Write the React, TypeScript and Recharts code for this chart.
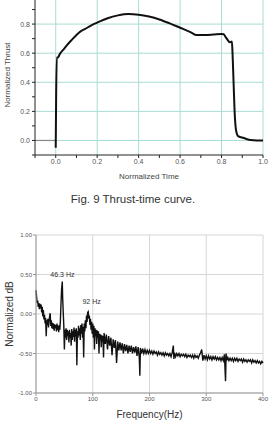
import React from 'react';
import {
  LineChart,
  Line,
  XAxis,
  YAxis,
  CartesianGrid,
  ReferenceDot
} from 'recharts';

// Fig. 9 - normalized thrust vs normalized time
const preTime = [-0.1, 0];
const preThrust = [0, 0];
const timeNorm = [
  0.0, 0.002, 0.005, 0.01, 0.02, 0.04, 0.06, 0.08, 0.1, 0.12, 0.14, 0.17,
  0.2, 0.25, 0.3, 0.35, 0.4, 0.45, 0.5, 0.55, 0.6, 0.65, 0.68, 0.72, 0.76, 0.8, 0.81,
  0.82, 0.83, 0.84, 0.85, 0.853, 0.858, 0.863, 0.87, 0.88, 0.9, 0.92, 0.94, 0.97, 1.0,
];
const thrustNorm = [
  -0.05, 0.3, 0.57, 0.57, 0.595, 0.63, 0.665, 0.695, 0.725, 0.75, 0.765, 0.79,
  0.81, 0.84, 0.86, 0.87, 0.865, 0.852, 0.832, 0.805, 0.775, 0.745, 0.725, 0.725, 0.728, 0.732, 0.73,
  0.71, 0.69, 0.675, 0.68, 0.6, 0.4, 0.2, 0.07, 0.03, 0.02, 0.01, 0.003, 0, 0,
];
const timeTicks = [-0.1, 0, 0.1, 0.2, 0.3, 0.4, 0.5, 0.6, 0.7, 0.8, 0.9, 1.0];
const thrustTicks = [-0.1, 0, 0.1, 0.2, 0.3, 0.4, 0.5, 0.6, 0.7, 0.8, 0.9, 1.0];
const timeGrid = [0, 0.2, 0.4, 0.6, 0.8, 1.0];
const thrustGrid = [0, 0.2, 0.4, 0.6, 0.8];

// spectrum - normalized dB vs frequency
const freqHz = [
  0, 1, 2, 3, 4, 5, 6, 7, 8, 9,
  10, 11, 12, 13, 14, 15, 16, 17, 18, 19,
  20, 21, 22, 23, 24, 25, 26, 27, 28, 29,
  30, 31, 32, 33, 34, 35, 36, 37, 38, 39,
  40, 41, 42, 43, 44, 45, 46.3, 47, 48, 49,
  50, 51, 52, 53, 54, 55, 56, 57, 58, 59,
  60, 61, 62, 63, 64, 65, 66, 67, 68, 69,
  70, 71, 72, 73, 74, 75, 76, 77, 78, 79,
  80, 81, 82, 83, 84, 85, 86, 87, 88, 89,
  90, 91, 92, 93, 94, 95, 96, 97, 98, 99,
  100, 101, 102, 103, 104, 105, 106, 107, 108, 109,
  110, 111, 112, 113, 114, 115, 116, 117, 118, 119,
  120, 122, 124, 126, 128, 130, 132, 134, 136, 138,
  140, 142, 144, 146, 148, 150, 152, 154, 156, 158,
  160, 162, 164, 166, 168, 170, 172, 174, 176, 178,
  180, 182, 183, 184, 186, 188, 190, 192, 194, 196, 198,
  200, 202, 204, 206, 208, 210, 212, 214, 216, 218,
  220, 222, 224, 226, 228, 230, 232, 234, 236, 238,
  240, 242, 243, 244, 246, 248, 250, 252, 254, 256, 258,
  260, 262, 264, 266, 268, 270, 272, 274, 276, 278,
  280, 282, 284, 286, 288, 290, 292, 294, 296, 298,
  300, 302, 304, 306, 308, 310, 312, 314, 316, 318,
  320, 322, 324, 326, 328, 330, 332, 334, 335, 336, 338,
  340, 342, 344, 346, 348, 350, 352, 354, 356, 358,
  360, 362, 364, 366, 368, 370, 372, 374, 376, 378,
  380, 382, 384, 386, 388, 390, 392, 394, 396, 398, 400,
];
const dbNorm = [
  0.3, 0.22, 0.14, 0.17, 0.09, 0.14, 0.06, 0.13, 0.07, 0.12,
  0.02, 0.09, -0.03, 0.05, -0.07, -0.01, -0.12, -0.05, -0.28, -0.08,
  -0.14, -0.06, -0.17, -0.09, -0.03, 0.01, -0.15, -0.08, -0.18, -0.11,
  -0.19, -0.12, -0.21, -0.13, -0.18, -0.14, -0.22, -0.12, -0.2, -0.15,
  -0.23, -0.14, -0.2, -0.08, 0.12, 0.3, 0.41, 0.2, 0.02, -0.15,
  -0.45, -0.2, -0.3, -0.18, -0.33, -0.2, -0.28, -0.22, -0.36, -0.2,
  -0.3, -0.24, -0.4, -0.19, -0.33, -0.22, -0.29, -0.17, -0.35, -0.2,
  -0.28, -0.18, -0.65, -0.22, -0.3, -0.15, -0.27, -0.18, -0.33, -0.14,
  -0.25, -0.12, -0.3, -0.16, -0.55, -0.12, -0.22, -0.08, -0.18, -0.02,
  -0.1, 0.02, 0.03, -0.06, -0.02, -0.14, -0.06, -0.2, -0.1, -0.25,
  -0.12, -0.3, -0.15, -0.45, -0.18, -0.28, -0.2, -0.38, -0.21, -0.3,
  -0.22, -0.5, -0.25, -0.33, -0.26, -0.42, -0.27, -0.35, -0.28, -0.55,
  -0.24, -0.38, -0.26, -0.45, -0.28, -0.4, -0.3, -0.52, -0.32, -0.43,
  -0.33, -0.62, -0.35, -0.46, -0.36, -0.46, -0.37, -0.5, -0.38, -0.47,
  -0.39, -0.5, -0.4, -0.48, -0.4, -0.5, -0.42, -0.49, -0.41, -0.53,
  -0.42, -0.55, -0.78, -0.43, -0.5, -0.44, -0.5, -0.45, -0.5, -0.46, -0.5,
  -0.46, -0.5, -0.47, -0.51, -0.47, -0.5, -0.48, -0.52, -0.48, -0.51,
  -0.49, -0.52, -0.49, -0.53, -0.49, -0.52, -0.5, -0.53, -0.5, -0.54,
  -0.49, -0.4, -0.57, -0.49, -0.54, -0.5, -0.53, -0.5, -0.54, -0.51, -0.53,
  -0.51, -0.54, -0.51, -0.55, -0.52, -0.54, -0.52, -0.55, -0.52, -0.56,
  -0.52, -0.55, -0.53, -0.56, -0.52, -0.49, -0.45, -0.59, -0.52, -0.57,
  -0.53, -0.58, -0.53, -0.57, -0.54, -0.58, -0.54, -0.57, -0.54, -0.58,
  -0.55, -0.58, -0.55, -0.59, -0.55, -0.59, -0.51, -0.85, -0.5, -0.59, -0.55,
  -0.59, -0.56, -0.59, -0.56, -0.6, -0.56, -0.59, -0.56, -0.6, -0.57,
  -0.59, -0.57, -0.61, -0.57, -0.6, -0.58, -0.61, -0.58, -0.6, -0.58,
  -0.62, -0.58, -0.61, -0.59, -0.62, -0.59, -0.62, -0.6, -0.63, -0.6, -0.62,
];
const freqTicks = [0, 100, 200, 300, 400];
const dbTicks = [-1, -0.5, 0, 0.5, 1];
const peakLabels = [
  { f: 46.5, db: 0.5, text: '46.3 Hz' },
  { f: 98, db: 0.16, text: '92 Hz' },
];

// one table for the thrust chart: the pre-ignition baseline and the burn curve
const thrustData = [
  ...preTime.map((t, i) => ({ t, pre: preThrust[i] })),
  ...timeNorm.map((t, i) => ({ t, thrust: thrustNorm[i] })),
];
const spectrumData = freqHz.map((f, i) => ({ f, db: dbNorm[i] }));

const tickFont = { fontSize: 7, fill: '#555', fontFamily: 'Liberation Sans, Arial, sans-serif' };
const evenTenth = (v: number) => {
  const k = Math.round(v * 10);
  return k >= 0 && k <= 8 && k % 2 === 0 ? v.toFixed(1) : '';
};
const evenTenthX = (v: number) => {
  const k = Math.round(v * 10);
  return k >= 0 && k % 2 === 0 ? v.toFixed(1) : '';
};

const ThrustChart = () => (
  <div style={{ position: 'absolute', left: 0, top: -5 }}>
    <LineChart width={269} height={190} data={thrustData} margin={{ top: 0, right: 6, left: 0, bottom: 0 }}>
      <CartesianGrid stroke="#a9dcd5" horizontalValues={thrustGrid} verticalValues={timeGrid} />
      <XAxis
        dataKey="t"
        type="number"
        domain={[-0.1, 1.0]}
        ticks={timeTicks}
        tickFormatter={evenTenthX}
        height={30}
        stroke="#222"
        tickSize={3}
        tickMargin={1}
        tick={tickFont}
        interval={0}
        label={{ value: 'Normalized Time', position: 'insideBottom', offset: 6, fontSize: 8, fill: '#444' }}
      />
      <YAxis
        type="number"
        domain={[-0.1, 1.0]}
        ticks={thrustTicks}
        tickFormatter={evenTenth}
        width={35}
        stroke="#222"
        tickSize={3}
        tickMargin={2}
        tick={tickFont}
        interval={0}
        label={{
          value: 'Normalized Thrust',
          angle: -90,
          position: 'insideLeft',
          offset: 7,
          fontSize: 8,
          fill: '#444',
          style: { textAnchor: 'middle' },
        }}
      />
      <Line
        type="linear"
        dataKey="pre"
        stroke="#888"
        strokeWidth={1.2}
        dot={false}
        isAnimationActive={false}
      />
      <Line
        type="monotone"
        dataKey="thrust"
        stroke="#111"
        strokeWidth={2}
        dot={false}
        isAnimationActive={false}
      />
    </LineChart>
  </div>
);

const SpectrumChart = () => (
  <div style={{ position: 'absolute', left: 0, top: 225 }}>
    <LineChart width={269} height={198} data={spectrumData} margin={{ top: 10, right: 6, left: 0, bottom: 0 }}>
      <CartesianGrid stroke="#d6d6d6" />
      <XAxis
        dataKey="f"
        type="number"
        domain={[0, 400]}
        ticks={freqTicks}
        height={30}
        stroke="#999"
        tickSize={3}
        tickMargin={1}
        tick={{ ...tickFont, fontSize: 6 }}
        interval={0}
        label={{ value: 'Frequency(Hz)', position: 'insideBottom', offset: 5, fontSize: 10, fill: '#333' }}
      />
      <YAxis
        type="number"
        domain={[-1, 1]}
        ticks={dbTicks}
        tickFormatter={(v: number) => v.toFixed(2)}
        width={36}
        stroke="#999"
        tickSize={3}
        tickMargin={1}
        tick={{ ...tickFont, fontSize: 6 }}
        interval={0}
        label={{
          value: 'Normalized dB',
          angle: -90,
          position: 'insideLeft',
          offset: 9,
          fontSize: 10,
          fill: '#333',
          style: { textAnchor: 'middle' },
        }}
      />
      <Line
        type="linear"
        dataKey="db"
        stroke="#111"
        strokeWidth={1.4}
        dot={false}
        isAnimationActive={false}
      />
      {peakLabels.map((p) => (
        <ReferenceDot
          key={p.text}
          x={p.f}
          y={p.db}
          r={0}
          fill="none"
          stroke="none"
          label={{ value: p.text, position: 'center', fontSize: 7, fill: '#333' }}
        />
      ))}
    </LineChart>
  </div>
);

export default function App() {
  return (
    <div
      style={{
        position: 'absolute',
        left: 0,
        top: 0,
        width: 269,
        height: 425,
        overflow: 'hidden',
        background: '#fff',
        fontFamily: 'Liberation Sans, Arial, sans-serif',
      }}
    >
      <ThrustChart />
      <div
        style={{
          position: 'absolute',
          left: 0,
          top: 193,
          width: 266,
          textAlign: 'center',
          fontSize: 11.5,
          color: '#333',
        }}
      >
        Fig. 9 Thrust-time curve.
      </div>
      <SpectrumChart />
    </div>
  );
}
